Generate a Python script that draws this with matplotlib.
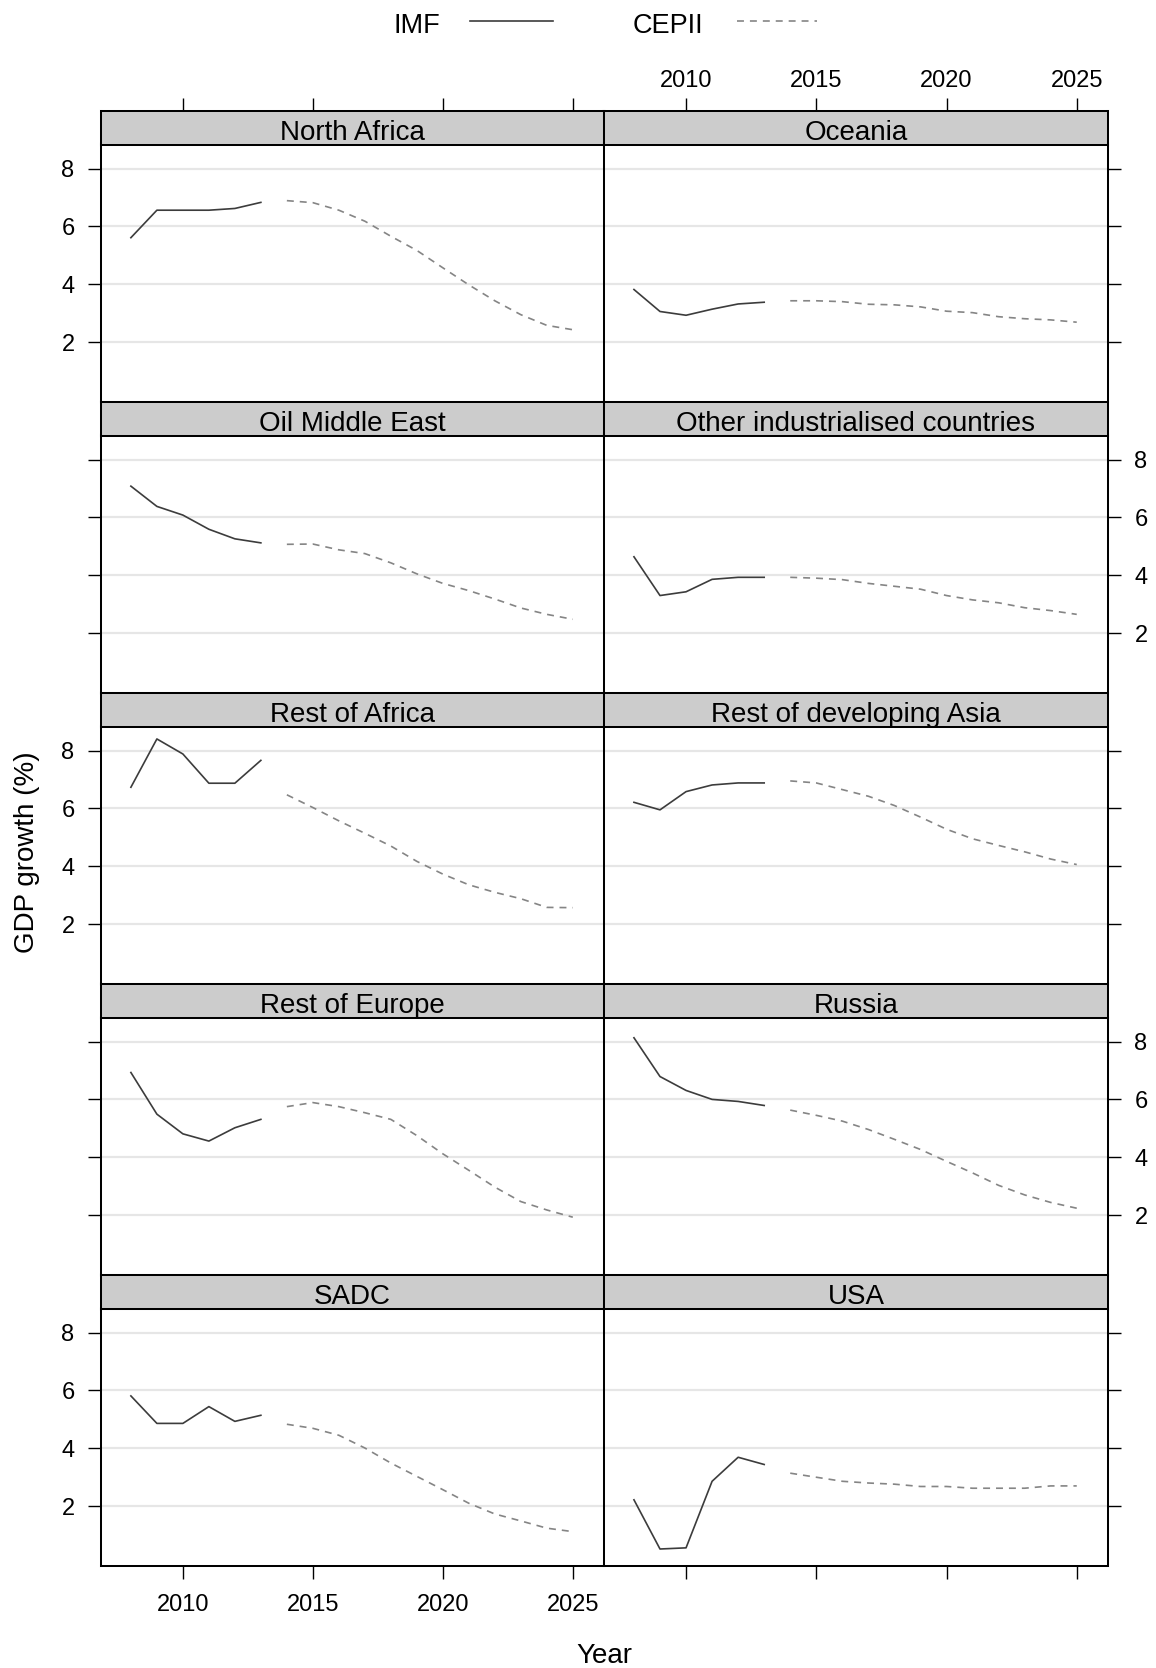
import matplotlib
matplotlib.use("Agg")
import matplotlib.pyplot as plt
from matplotlib.lines import Line2D

plt.rcParams['font.family'] = ['Liberation Sans', 'DejaVu Sans']
plt.rcParams['lines.scale_dashes'] = False

# ---------------- data ----------------
regions = ["North Africa", "Oceania", "Oil Middle East", "Other industrialised countries",
           "Rest of Africa", "Rest of developing Asia", "Rest of Europe", "Russia",
           "SADC", "USA"]

years_imf = [2008, 2009, 2010, 2011, 2012, 2013]
years_cepii = [2014, 2015, 2016, 2017, 2018, 2019, 2020, 2021, 2022, 2023, 2024, 2025]

north_africa_imf = [5.61, 6.56, 6.56, 6.56, 6.62, 6.83]
north_africa_cepii = [6.89, 6.82, 6.56, 6.18, 5.66, 5.17, 4.57, 3.98, 3.43, 2.95, 2.58, 2.43]

oceania_imf = [3.82, 3.06, 2.93, 3.14, 3.32, 3.38]
oceania_cepii = [3.43, 3.43, 3.40, 3.31, 3.29, 3.22, 3.07, 3.02, 2.88, 2.81, 2.77, 2.69]

oil_middle_east_imf = [7.08, 6.38, 6.08, 5.59, 5.26, 5.12]
oil_middle_east_cepii = [5.07, 5.08, 4.88, 4.75, 4.43, 4.05, 3.72, 3.47, 3.18, 2.87, 2.65, 2.48]

other_industrialised_imf = [4.64, 3.30, 3.43, 3.86, 3.93, 3.93]
other_industrialised_cepii = [3.93, 3.90, 3.85, 3.72, 3.62, 3.52, 3.30, 3.15, 3.05, 2.88, 2.78, 2.65]

rest_of_africa_imf = [6.73, 8.40, 7.88, 6.87, 6.87, 7.66]
rest_of_africa_cepii = [6.47, 6.03, 5.57, 5.14, 4.70, 4.17, 3.73, 3.36, 3.10, 2.88, 2.58, 2.57]

rest_of_asia_imf = [6.21, 5.95, 6.58, 6.81, 6.88, 6.88]
rest_of_asia_cepii = [6.95, 6.88, 6.65, 6.42, 6.10, 5.70, 5.28, 4.95, 4.72, 4.50, 4.25, 4.06]

rest_of_europe_imf = [6.93, 5.49, 4.81, 4.56, 5.02, 5.31]
rest_of_europe_cepii = [5.75, 5.89, 5.75, 5.54, 5.31, 4.75, 4.12, 3.55, 2.97, 2.47, 2.18, 1.93]

russia_imf = [8.13, 6.79, 6.31, 6.00, 5.93, 5.79]
russia_cepii = [5.63, 5.45, 5.25, 4.96, 4.62, 4.27, 3.86, 3.46, 3.03, 2.70, 2.44, 2.24]

sadc_imf = [5.81, 4.86, 4.86, 5.44, 4.93, 5.14]
sadc_cepii = [4.83, 4.69, 4.45, 4.01, 3.49, 3.03, 2.57, 2.10, 1.73, 1.49, 1.24, 1.12]

usa_imf = [2.22, 0.52, 0.56, 2.86, 3.69, 3.44]
usa_cepii = [3.14, 3.00, 2.86, 2.80, 2.76, 2.68, 2.68, 2.62, 2.62, 2.62, 2.70, 2.70]

imf_series = [north_africa_imf, oceania_imf, oil_middle_east_imf, other_industrialised_imf,
              rest_of_africa_imf, rest_of_asia_imf, rest_of_europe_imf, russia_imf,
              sadc_imf, usa_imf]
cepii_series = [north_africa_cepii, oceania_cepii, oil_middle_east_cepii, other_industrialised_cepii,
                rest_of_africa_cepii, rest_of_asia_cepii, rest_of_europe_cepii, russia_cepii,
                sadc_cepii, usa_cepii]

x_ticks = [2010, 2015, 2020, 2025]
y_ticks = [2, 4, 6, 8]

# ---------------- layout ----------------
W, H = 1156, 1668
fig = plt.figure(figsize=(W / 100, H / 100), dpi=100)


def fx(px):
    return px / W


def fy(py):
    return 1 - py / H


IMF_COLOR = '#3c3c3c'
CEPII_COLOR = '#858585'
GRID_COLOR = '#e6e6e6'
STRIP_COLOR = '#cccccc'
DASHES = (5, 4.3)
SPINE_LW = 1.45

col_x = [(101, 604), (604, 1108)]
row_top = [110.5, 401.5, 692.5, 983.5, 1274.5]
row_h = 291
strip_h = 34
xlim = (2006.85, 2026.2)
ylim = (-0.05, 8.83)

for i, name in enumerate(regions):
    r, c = divmod(i, 2)
    left, right = col_x[c]
    top = row_top[r]
    w = fx(right - left)

    ax = fig.add_axes([fx(left), fy(top + row_h), w, (row_h - strip_h) / H])
    axs = fig.add_axes([fx(left), fy(top + strip_h), w, strip_h / H])

    ax.set_xlim(xlim)
    ax.set_ylim(ylim)
    ax.set_xticks(x_ticks)
    ax.set_yticks(y_ticks)
    ax.yaxis.grid(True, color=GRID_COLOR, lw=1.6)
    ax.set_axisbelow(True)

    ax.plot(years_imf, imf_series[i], color=IMF_COLOR, lw=1.2)
    ax.plot(years_cepii, cepii_series[i], color=CEPII_COLOR, lw=1.2, dashes=DASHES)

    ax.tick_params(axis='y', direction='out', length=9.5, width=1.0, pad=9.5,
                   labelsize=17, left=(c == 0), right=(c == 1),
                   labelleft=(c == 0 and r % 2 == 0),
                   labelright=(c == 1 and r % 2 == 1))
    ax.tick_params(axis='x', direction='out', length=9.5, width=1.0, pad=11,
                   labelsize=17, bottom=(r == 4), top=False,
                   labelbottom=(r == 4 and c == 0), labeltop=False)
    for sp in ax.spines.values():
        sp.set_linewidth(SPINE_LW)
        sp.set_color('black')

    # strip
    axs.set_facecolor(STRIP_COLOR)
    axs.set_xlim(xlim)
    axs.set_ylim(0, 1)
    axs.set_xticks(x_ticks)
    axs.set_yticks([])
    axs.tick_params(axis='x', direction='out', length=9.5, width=1.0, pad=4,
                    labelsize=17, top=(r == 0), bottom=False,
                    labeltop=(r == 0 and c == 1), labelbottom=False)
    for sp in axs.spines.values():
        sp.set_linewidth(SPINE_LW)
        sp.set_color('black')
    axs.text(0.5, 0.14, name, ha='center', va='baseline', fontsize=20,
             transform=axs.transAxes)

# ---------------- legend ----------------
fig.text(fx(393), fy(33.3), 'IMF', ha='left', va='baseline', fontsize=19.5)
fig.add_artist(Line2D([fx(470), fx(553)], [fy(20.7), fy(20.7)], color=IMF_COLOR, lw=1.2,
                      transform=fig.transFigure))
fig.text(fx(633), fy(33.3), 'CEPII', ha='left', va='baseline', fontsize=19.5)
fig.add_artist(Line2D([fx(737), fx(817)], [fy(20.7), fy(20.7)], color=CEPII_COLOR, lw=1.2,
                      dashes=DASHES, transform=fig.transFigure))

# ---------------- axis labels ----------------
fig.text(fx(27), fy(852), 'GDP growth (%)', rotation=90, ha='center', va='center', fontsize=20)
fig.text(fx(604), fy(1663.3), 'Year', ha='center', va='baseline', fontsize=20)

fig.savefig('out.png', dpi=100)
